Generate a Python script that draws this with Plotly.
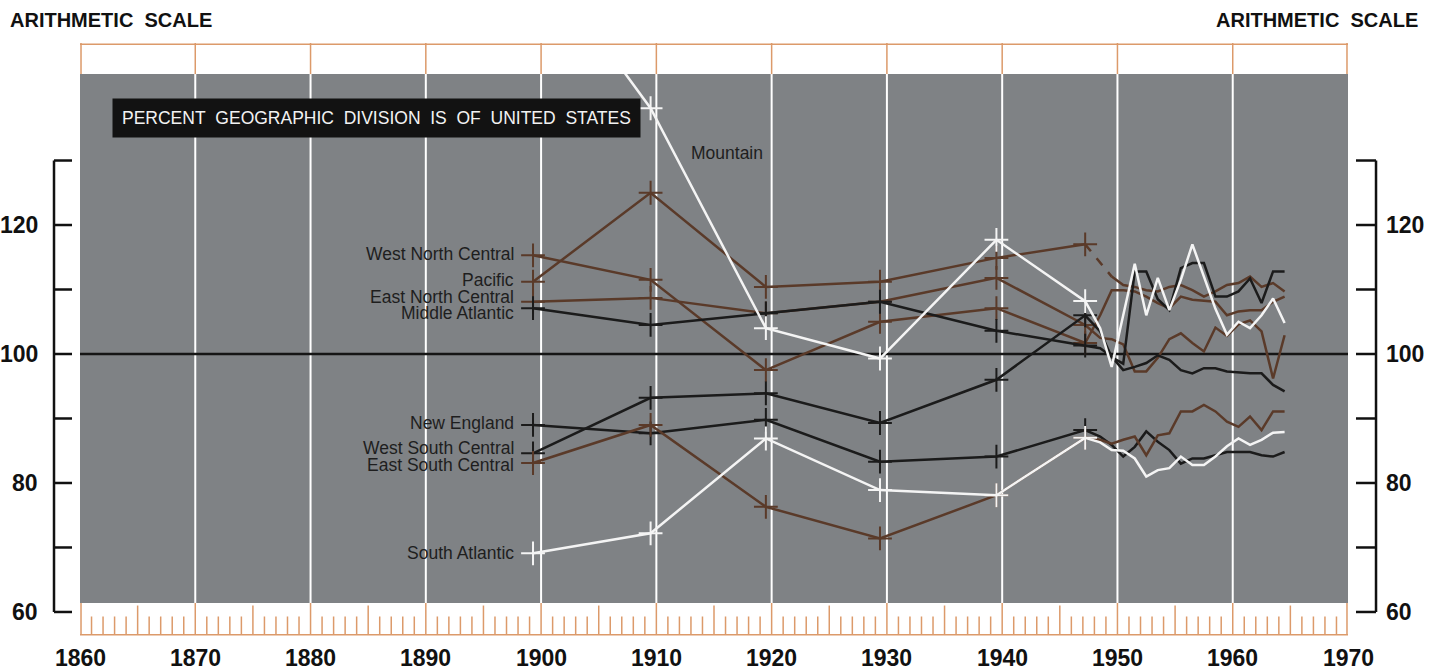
import plotly.graph_objects as go

# x positions of the census-type points (crosses) and the annual series
census_x = [1899.3, 1909.5, 1919.5, 1929.4, 1939.5, 1947.2]
annual_x = [1948.5, 1949.5, 1950.5, 1951.5, 1952.5, 1953.5, 1954.5, 1955.5, 1956.5,
            1957.5, 1958.5, 1959.5, 1960.5, 1961.5, 1962.5, 1963.5, 1964.5]

# percent of US value, by geographic division
new_england = [89.0, 87.7, 89.8, 83.3, 84.1, 88.2]
middle_atlantic = [107.1, 104.5, 106.3, 108.1, 103.6, 101.3]
east_north_central = [108.1, 108.7, 106.3, 108.1, 111.8, 104.5]
west_north_central = [115.3, 111.5, 97.5, 105.0, 107.1, 101.7]
south_atlantic = [69.1, 72.2, 86.9, 78.9, 78.1, 87.0]
east_south_central = [83.1, 89.0, 76.3, 71.4, 78.1, 87.0]
west_south_central = [84.6, 93.2, 93.9, 89.3, 96.0, 106.0]
mountain = [163.0, 138.1, 104.0, 99.3, 117.7, 108.2]
pacific = [111.2, 125.0, 110.4, 111.2, 114.9, 117.0]

new_england_annual = [87.2, 85.9, 84.1, 85.6, 88.0, 86.4, 85.1, 83.0, 83.8, 83.8, 84.3, 84.8,
                      84.8, 84.8, 84.3, 84.1, 84.8]
middle_atlantic_annual = [100.9, 99.6, 97.5, 98.0, 98.6, 99.8, 99.1, 97.5, 97.0, 97.8, 97.8,
                          97.3, 97.1, 97.0, 97.0, 95.2, 94.2]
east_north_central_annual = [102.5, 102.3, 101.5, 97.3, 97.3, 99.4, 102.3, 103.2, 101.7, 100.4,
                             104.1, 102.8, 104.6, 105.2, 103.5, 96.2, 102.9]
west_north_central_annual = [106.0, 109.9, 109.9, 109.7, 108.9, 107.9, 107.1, 108.9, 108.4,
                             108.2, 108.1, 106.0, 106.6, 106.8, 106.8, 108.1, 108.9]
south_atlantic_annual = [86.3, 85.1, 85.0, 83.8, 81.0, 82.0, 82.3, 84.1, 82.8, 82.8, 84.1, 85.7,
                         86.9, 85.9, 86.7, 87.8, 87.9]
east_south_central_annual = [86.7, 86.1, 86.7, 87.2, 84.3, 87.4, 87.7, 91.1, 91.1, 92.1, 91.1,
                             89.5, 88.7, 90.3, 88.2, 91.1, 91.1]
west_south_central_annual = [103.5, 99.5, 98.5, 112.8, 112.8, 108.5, 106.8, 113.3, 114.1, 114.1,
                             108.9, 108.9, 109.7, 111.7, 107.9, 112.8, 112.8]
mountain_annual = [104.0, 98.0, 106.0, 114.0, 106.0, 111.8, 106.8, 111.5, 117.0, 112.0, 107.0,
                   103.0, 105.0, 104.0, 106.0, 108.6, 104.8]
pacific_annual = [None, 112.0, 110.7, 110.4, 109.9, 109.7, 110.4, 110.7, 109.9, 108.9, 109.7,
                  110.7, 111.0, 112.0, 110.4, 111.0, 109.7]

decades = [1860, 1870, 1880, 1890, 1900, 1910, 1920, 1930, 1940, 1950, 1960, 1970]
y_ticks = [60, 70, 80, 90, 100, 110, 120, 130]
y_tick_labels = [60, 80, 100, 120]

BROWN = '#5a3a29'
BLACK = '#1b1b1b'
WHITE = '#f4f4f4'
GRAY = '#7f8285'
ORANGE = '#dc9a6a'

divisions = [
    ('West North Central', west_north_central, west_north_central_annual, BROWN, 115.5),
    ('Pacific', pacific, pacific_annual, BROWN, 111.5),
    ('East North Central', east_north_central, east_north_central_annual, BROWN, 108.8),
    ('Middle Atlantic', middle_atlantic, middle_atlantic_annual, BLACK, 106.3),
    ('New England', new_england, new_england_annual, BLACK, 89.3),
    ('West South Central', west_south_central, west_south_central_annual, BLACK, 85.5),
    ('East South Central', east_south_central, east_south_central_annual, BROWN, 82.8),
    ('South Atlantic', south_atlantic, south_atlantic_annual, WHITE, 69.1),
    ('Mountain', mountain, mountain_annual, WHITE, None),
]

fig = go.Figure()

for name, census, annual, color, _ in divisions:
    if annual[0] is None:
        # broken link between the 1947 point and the annual series
        fig.add_trace(go.Scatter(x=census_x, y=census, mode='lines',
                                 line=dict(color=color, width=2.5), hoverinfo='skip'))
        fig.add_trace(go.Scatter(x=[census_x[-1], annual_x[1]], y=[census[-1], annual[1]],
                                 mode='lines', line=dict(color=color, width=2.5, dash='dash'),
                                 hoverinfo='skip'))
        fig.add_trace(go.Scatter(x=annual_x, y=annual, mode='lines',
                                 line=dict(color=color, width=2.5), hoverinfo='skip'))
    else:
        fig.add_trace(go.Scatter(x=census_x + annual_x, y=census + annual, mode='lines',
                                 line=dict(color=color, width=2.5), hoverinfo='skip'))
    fig.add_trace(go.Scatter(x=census_x, y=census, mode='markers',
                             marker=dict(symbol='cross-thin', size=17,
                                         line=dict(color=color, width=2)),
                             hoverinfo='skip'))

shapes = []
# gray panel and white decade rules
shapes.append(dict(type='rect', xref='x', yref='y', x0=1860, x1=1970, y0=61.4, y1=143.4,
                   fillcolor=GRAY, line_width=0, layer='below'))
for d in decades[1:-1]:
    shapes.append(dict(type='line', xref='x', yref='y', x0=d, x1=d, y0=61.4, y1=143.4,
                       line=dict(color='white', width=2), layer='below'))
shapes.append(dict(type='line', xref='x', yref='y', x0=1860, x1=1970, y0=100, y1=100,
                   line=dict(color='#151515', width=2.5), layer='below'))

# top band (covers lines running off the top of the panel)
shapes.append(dict(type='rect', xref='paper', yref='y', x0=0, x1=1, y0=143.4, y1=148.3,
                   fillcolor='white', line_width=0, layer='above'))
shapes.append(dict(type='line', xref='paper', yref='paper', x0=0, x1=1, y0=0.998, y1=0.998,
                   line=dict(color=ORANGE, width=1.5), layer='above'))
for d in decades:
    xr = 'x'
    xv = d
    if d == 1860:
        xr, xv = 'paper', 0.0008
    if d == 1970:
        xr, xv = 'paper', 0.9992
    shapes.append(dict(type='line', xref=xr, yref='y', x0=xv, x1=xv, y0=143.4, y1=148.3,
                       line=dict(color=ORANGE, width=1.5), layer='above'))

# bottom ruler
for yr in range(1860, 1971):
    if yr % 10 == 0:
        top = 61.4
    elif yr % 5 == 0:
        top = 61.0
    else:
        top = 59.3
    xr, xv = 'x', yr
    if yr == 1860:
        xr, xv = 'paper', 0.0008
    if yr == 1970:
        xr, xv = 'paper', 0.9992
    shapes.append(dict(type='line', xref=xr, yref='y', x0=xv, x1=xv, y0=56.45, y1=top,
                       line=dict(color=ORANGE, width=1.5), layer='above'))
shapes.append(dict(type='line', xref='paper', yref='y', x0=0, x1=1, y0=56.45, y1=56.45,
                   line=dict(color=ORANGE, width=1.5), layer='above'))

# y axis brackets
for x_in, x_out in [(-0.0063, -0.0205), (1.0063, 1.0221)]:
    shapes.append(dict(type='line', xref='paper', yref='y', x0=x_out, x1=x_out,
                       y0=y_ticks[0], y1=y_ticks[-1], line=dict(color='#111', width=2.5)))
    for t in y_ticks:
        shapes.append(dict(type='line', xref='paper', yref='y', x0=x_in, x1=x_out, y0=t, y1=t,
                           line=dict(color='#111', width=2.5)))

annotations = []
bold = 'Liberation Sans, Arial, sans-serif'
for t in y_tick_labels:
    annotations.append(dict(xref='paper', yref='y', x=-0.0315, y=t, text=str(t),
                            xanchor='right', yanchor='middle', showarrow=False,
                            font=dict(family=bold, size=23, color='#111', weight='bold')))
    annotations.append(dict(xref='paper', yref='y', x=1.0284, y=t, text=str(t),
                            xanchor='left', yanchor='middle', showarrow=False,
                            font=dict(family=bold, size=23, color='#111', weight='bold')))
for d in decades:
    annotations.append(dict(xref='x', yref='paper', x=d, y=-0.036, text=str(d),
                            xanchor='center', yanchor='middle', showarrow=False,
                            font=dict(family=bold, size=23, color='#111', weight='bold')))
for xa, anchor in [(-0.0568, 'left'), (1.0568, 'right')]:
    annotations.append(dict(xref='paper', yref='paper', x=xa, y=1.039,
                            text='ARITHMETIC\u00a0 SCALE', xanchor=anchor, yanchor='middle',
                            showarrow=False,
                            font=dict(family=bold, size=20, color='#111', weight='bold')))

annotations.append(dict(xref='paper', yref='paper', x=0.0251, y=0.873, xanchor='left',
                        yanchor='middle', showarrow=False, bgcolor='#121212', borderpad=9,
                        text='\u00a0\u00a0'.join('PERCENT GEOGRAPHIC DIVISION IS OF UNITED STATES'.split()),
                        font=dict(family='Liberation Sans, Arial, sans-serif', size=17.5,
                                  color='#f2f2f2')))

for name, census, annual, color, ly in divisions:
    if ly is None:
        continue
    annotations.append(dict(xref='x', yref='y', x=1897.8, y=ly, text=name, xanchor='right',
                            yanchor='middle', showarrow=False,
                            font=dict(family='Liberation Sans, Arial, sans-serif', size=17.5,
                                      color='#1e1e1e')))
annotations.append(dict(xref='x', yref='y', x=1912.8, y=131.2, text='Mountain', xanchor='left',
                        yanchor='middle', showarrow=False,
                        font=dict(family='Liberation Sans, Arial, sans-serif', size=17.5,
                                  color='#1e1e1e')))

fig.update_layout(
    width=1434, height=672,
    margin=dict(l=80, r=86, t=43, b=35),
    paper_bgcolor='white', plot_bgcolor='white',
    showlegend=False,
    xaxis=dict(range=[1860, 1970], showgrid=False, zeroline=False, showticklabels=False,
               showline=False, fixedrange=True),
    yaxis=dict(range=[56.12, 148.22], showgrid=False, zeroline=False, showticklabels=False,
               showline=False, fixedrange=True),
    shapes=shapes,
    annotations=annotations,
)

fig.write_html("out.html", config={'displayModeBar': False},
               post_script="document.body.style.margin='0px';")
